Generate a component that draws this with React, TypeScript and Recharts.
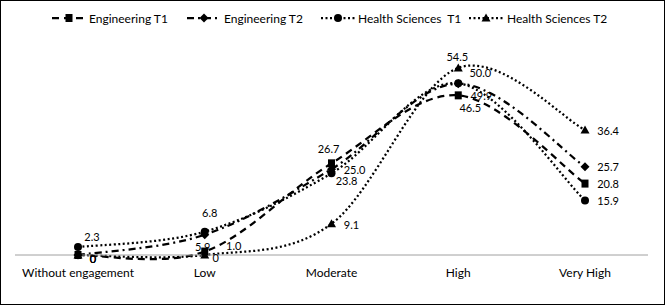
import React from 'react';
import { LineChart, Line, XAxis, YAxis, LabelList } from 'recharts';

const categories = ['Without engagement', 'Low', 'Moderate', 'High', 'Very High'];
const engineeringT1 = [0, 1.0, 26.7, 46.5, 20.8];
const engineeringT2 = [0, 5.9, 25.0, 49.9, 25.7];
const healthT1 = [2.3, 6.8, 23.8, 50.0, 15.9];
const healthT2 = [0, 0, 9.1, 54.5, 36.4];

const data = categories.map((name, i) => ({
  name,
  eng1: engineeringT1[i],
  eng2: engineeringT2[i],
  hs1: healthT1[i],
  hs2: healthT2[i],
}));

// label offsets (dx, dy) from the marker, picked to sit like in the original
const eng1Offsets = [[15, 3], [29, -6], [-3, -15], [12, 12], [23, 0]];
const eng2Offsets = [[15, 3], [-2, 12], [23, 0], [23, 12], [23, 0]];
const hs1Offsets = [[14, -11], [5, -19], [15, 7], [22, -11], [23, 0]];
const hs2Offsets = [[15, 3], [11, 2], [20, 1], [-1, -11], [23, 0]];

const FONT = 'Lato, "Liberation Sans", sans-serif';

// Excel-style smoothing (Catmull-Rom through the points)
const smoothCurve = (context: any) => {
  let pts: number[][] = [];
  return {
    areaStart() {},
    areaEnd() {},
    lineStart() {
      pts = [];
    },
    point(x: number, y: number) {
      pts.push([+x, +y]);
    },
    lineEnd() {
      if (!pts.length) return;
      context.moveTo(pts[0][0], pts[0][1]);
      for (let i = 0; i < pts.length - 1; i++) {
        const p0 = pts[i - 1] || pts[i];
        const p1 = pts[i];
        const p2 = pts[i + 1];
        const p3 = pts[i + 2] || p2;
        context.bezierCurveTo(
          p1[0] + (p2[0] - p0[0]) / 6,
          p1[1] + (p2[1] - p0[1]) / 6,
          p2[0] - (p3[0] - p1[0]) / 6,
          p2[1] - (p3[1] - p1[1]) / 6,
          p2[0],
          p2[1]
        );
      }
    },
  };
};

const marker = (shape: string, cx: number, cy: number, key?: any) => {
  if (shape === 'square') return <rect key={key} x={cx - 3.5} y={cy - 4} width={7} height={8} fill="#000" />;
  if (shape === 'diamond')
    return <path key={key} d={`M${cx},${cy - 4.5}L${cx + 4.5},${cy}L${cx},${cy + 4.5}L${cx - 4.5},${cy}Z`} fill="#000" />;
  if (shape === 'circle') return <circle key={key} cx={cx} cy={cy} r={4} fill="#000" />;
  return <path key={key} d={`M${cx},${cy - 4.5}L${cx + 4.5},${cy + 3.5}L${cx - 4.5},${cy + 3.5}Z`} fill="#000" />;
};

const makeDot = (shape: string) => (props: any) => marker(shape, props.cx, props.cy, props.key ?? props.index);

const makeLabel = (offsets: number[][]) => (props: any) => {
  const { x, y, value, index } = props;
  const [dx, dy] = offsets[index] || [0, 0];
  return (
    <text
      key={index}
      x={x + dx}
      y={y + dy}
      textAnchor="middle"
      dominantBaseline="central"
      fontFamily={FONT}
      fontSize={11}
      fill="#000"
    >
      {value === 0 ? '0' : value.toFixed(1)}
    </text>
  );
};

const series = [
  { key: 'eng1', name: 'Engineering T1', dash: '7 5', shape: 'square', offsets: eng1Offsets, lx: 51, tx: 89 },
  { key: 'eng2', name: 'Engineering T2', dash: '7 4 2 4', shape: 'diamond', offsets: eng2Offsets, lx: 186, tx: 224 },
  { key: 'hs1', name: 'Health Sciences  T1', dash: '2 2.5', shape: 'circle', offsets: hs1Offsets, lx: 320, tx: 358 },
  { key: 'hs2', name: 'Health Sciences T2', dash: '2 2.5', shape: 'triangle', offsets: hs2Offsets, lx: 468, tx: 507 },
];

const App: React.FC = () => {
  return (
    <div style={{ position: 'absolute', left: 0, top: 0, width: 665, height: 305, background: '#fff' }}>
      <LineChart width={665} height={305} data={data} margin={{ top: 49, right: 17, bottom: 20, left: 15 }}>
        <XAxis
          dataKey="name"
          padding={{ left: 63, right: 63 }}
          tickLine={false}
          tickSize={0}
          tickMargin={13}
          stroke="#a0a0a0"
          tick={{ fill: '#000', fontSize: 12, fontFamily: FONT }}
          interval={0}
        />
        <YAxis hide domain={[0, 60]} />
        {series.map((s) => (
          <Line
            key={s.key}
            dataKey={s.key}
            type={smoothCurve as any}
            stroke="#000"
            strokeWidth={2.25}
            strokeDasharray={s.dash}
            dot={makeDot(s.shape)}
            activeDot={false}
            isAnimationActive={false}
          >
            <LabelList dataKey={s.key} content={makeLabel(s.offsets)} />
          </Line>
        ))}
      </LineChart>
      {series.map((s) => (
        <div key={s.key} style={{ position: 'absolute', top: 10, left: s.lx, height: 16, display: 'flex', alignItems: 'center' }}>
          <svg width={36} height={16} style={{ display: 'block' }}>
            <line x1={1} y1={8} x2={35} y2={8} stroke="#000" strokeWidth={2.25} strokeDasharray={s.dash} />
            {marker(s.shape, 18, 8)}
          </svg>
          <span
            style={{ position: 'absolute', left: s.tx - s.lx, fontFamily: FONT, fontSize: 12, whiteSpace: 'pre', color: '#000' }}
          >
            {s.name}
          </span>
        </div>
      ))}
      <div
        style={{
          position: 'absolute',
          left: 0,
          top: 0,
          width: 665,
          height: 305,
          boxSizing: 'border-box',
          border: '1.5px solid #000',
          pointerEvents: 'none',
        }}
      />
    </div>
  );
};

export default App;
